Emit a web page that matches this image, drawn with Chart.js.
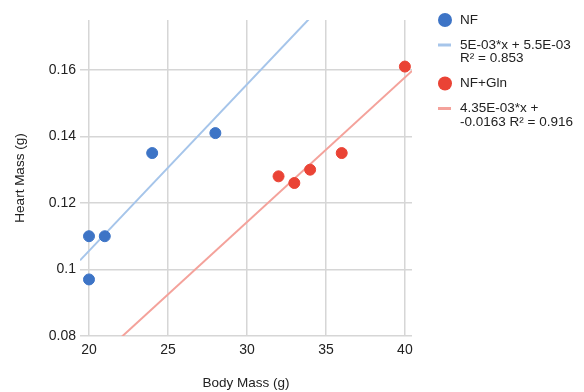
<!DOCTYPE html>
<html>
<head>
<meta charset="utf-8">
<script src="https://cdn.jsdelivr.net/npm/chart.js@4.4.0/dist/chart.umd.min.js"></script>
<style>
html, body { margin: 0; padding: 0; background: #fff; }
#wrap { position: relative; width: 584px; height: 392px; }
</style>
</head>
<body>
<div id="wrap"><canvas id="chart"></canvas></div>
<script>
// Heart mass vs body mass, two groups with linear trendlines

const nfBody = [20, 20, 21, 24, 28];
const nfHeart = [0.097, 0.11, 0.11, 0.135, 0.141];
const glnBody = [32, 33, 34, 36, 40];
const glnHeart = [0.128, 0.126, 0.13, 0.135, 0.161];

const xTicks = [20, 25, 30, 35, 40];
const yTicks = [0.08, 0.1, 0.12, 0.14, 0.16];
const xRange = [19.43, 40.45];
const yRange = [0.08, 0.175];

const nfLabel = ['NF'];
const glnLabel = ['NF+Gln'];
const nfTrendLabel = ['5E-03*x + 5.5E-03', 'R² = 0.853'];
const glnTrendLabel = ['4.35E-03*x +', '-0.0163 R² = 0.916'];

const FONT = "Arial, 'Liberation Sans', sans-serif";
const BLUE = '#3d74c6';
const RED = '#ea4335';
const BLUE_TREND = '#a6c5ea';
const RED_TREND = '#f4a29b';

function toPoints(xs, ys) {
    return xs.map((x, i) => ({ x: x, y: ys[i] }));
}

// least squares fit, drawn across the whole x range
function trendPoints(xs, ys) {
    const n = xs.length;
    const mx = xs.reduce((a, b) => a + b, 0) / n;
    const my = ys.reduce((a, b) => a + b, 0) / n;
    let sxy = 0, sxx = 0;
    xs.forEach((x, i) => {
        sxy += (x - mx) * (ys[i] - my);
        sxx += (x - mx) * (x - mx);
    });
    const slope = sxy / sxx;
    const icpt = my - slope * mx;
    return xRange.map(x => ({ x: x, y: slope * x + icpt }));
}

// legend drawn on the right side of the canvas
const sideLegend = {
    id: 'sideLegend',
    afterDraw(chart) {
        const ctx = chart.ctx;
        let y = 20;
        ctx.save();
        ctx.font = '13.5px ' + FONT;
        ctx.textBaseline = 'middle';
        ctx.textAlign = 'left';
        chart.data.datasets.forEach(ds => {
            if (ds.showLine) {
                ctx.strokeStyle = ds.borderColor;
                ctx.lineWidth = 3;
                ctx.beginPath();
                ctx.moveTo(438, y);
                ctx.lineTo(451, y);
                ctx.stroke();
            } else {
                ctx.fillStyle = ds.backgroundColor;
                ctx.beginPath();
                ctx.arc(445, y, 7, 0, Math.PI * 2);
                ctx.fill();
            }
            ctx.fillStyle = '#222';
            ds.label.forEach((line, i) => {
                ctx.fillText(line, 460, y + i * 13.5);
            });
            y += (ds.label.length - 1) * 13.5 + 25;
        });
        ctx.restore();
    }
};

new Chart(document.getElementById('chart'), {
    type: 'scatter',
    data: {
        datasets: [
            {
                label: nfLabel,
                data: toPoints(nfBody, nfHeart),
                backgroundColor: BLUE,
                borderColor: BLUE,
                pointRadius: 5.5,
                pointHoverRadius: 5.5,
                order: 1
            },
            {
                label: nfTrendLabel,
                data: trendPoints(nfBody, nfHeart),
                showLine: true,
                borderColor: BLUE_TREND,
                borderWidth: 2,
                pointRadius: 0,
                clip: 0,
                order: 2
            },
            {
                label: glnLabel,
                data: toPoints(glnBody, glnHeart),
                backgroundColor: RED,
                borderColor: RED,
                pointRadius: 5.5,
                pointHoverRadius: 5.5,
                order: 1
            },
            {
                label: glnTrendLabel,
                data: trendPoints(glnBody, glnHeart),
                showLine: true,
                borderColor: RED_TREND,
                borderWidth: 2,
                pointRadius: 0,
                clip: 0,
                order: 2
            }
        ]
    },
    options: {
        responsive: true,
        maintainAspectRatio: false,
        animation: false,
        layout: { padding: { top: 20, right: 172, left: 0, bottom: 0 } },
        plugins: {
            legend: { display: false },
            tooltip: { enabled: false }
        },
        scales: {
            x: {
                type: 'linear',
                min: xRange[0],
                max: xRange[1],
                afterBuildTicks: s => { s.ticks = xTicks.map(v => ({ value: v })); },
                afterFit: s => { s.height = 56; },
                grid: { color: '#d6d6d6', lineWidth: 1.5, drawTicks: false },
                border: { display: false },
                ticks: { color: '#222', font: { family: FONT, size: 14 }, padding: 6, maxRotation: 0 },
                title: { display: true, text: 'Body Mass (g)', color: '#222', font: { family: FONT, size: 13.5 }, padding: { top: 1, bottom: 1 } }
            },
            y: {
                min: yRange[0],
                max: yRange[1],
                afterBuildTicks: s => { s.ticks = yTicks.map(v => ({ value: v })); },
                afterFit: s => { s.width = 80; },
                grid: { color: '#d6d6d6', lineWidth: 1.5, drawTicks: false },
                border: { display: false },
                ticks: { color: '#222', font: { family: FONT, size: 14 }, padding: 4, callback: v => String(+v.toFixed(3)) },
                title: { display: true, text: 'Heart Mass (g)', color: '#222', font: { family: FONT, size: 13.5 }, padding: { top: 12, bottom: 0 } }
            }
        }
    },
    plugins: [sideLegend]
});
</script>
</body>
</html>
